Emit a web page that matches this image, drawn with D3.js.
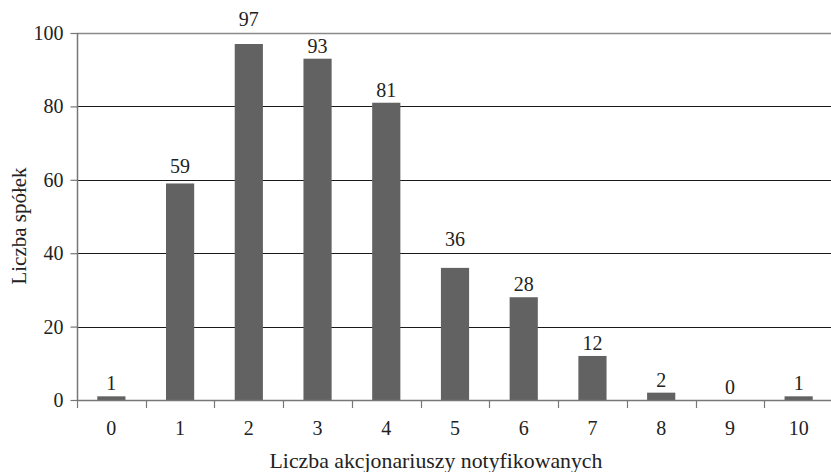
<!DOCTYPE html>
<html><head><meta charset="utf-8">
<script src="https://cdn.jsdelivr.net/npm/d3@7"></script>
<style>
html,body{margin:0;padding:0;background:#fff;}
svg text{font-family:"Liberation Serif","Times New Roman",serif;fill:#222;}
</style></head>
<body><svg id="c" width="831" height="472"></svg>
<script>
const categories = ["0","1","2","3","4","5","6","7","8","9","10"];
const values = [1,59,97,93,81,36,28,12,2,0,1];
const yTicks = [0,20,40,60,80,100];
const xTitle = "Liczba akcjonariuszy notyfikowanych";
const yTitle = "Liczba spółek";

(function(){
const svg = d3.select("#c");
const pL = 77, pR = 833, pT = 33, pB = 400;
const x = d3.scaleBand().domain(categories).range([pL, pR]).padding(0);
const y = d3.scaleLinear().domain([0,100]).range([pB, pT]);
const fs = 20, fsT = 21;

// gridlines
svg.append("g").selectAll("line").data(yTicks.filter(d=>d>0)).join("line")
  .attr("x1", pL).attr("x2", 831)
  .attr("y1", d=>Math.round(y(d))+0.5).attr("y2", d=>Math.round(y(d))+0.5)
  .attr("stroke", d=> d===100 ? "#8a8a8a" : "#1a1a1a").attr("stroke-width", d=> d===100?1.6:1.2);

// bars
const bw = x.bandwidth()*0.41;
svg.append("g").selectAll("rect").data(values).join("rect")
  .attr("x", (d,i)=> x(categories[i]) + (x.bandwidth()-bw)/2)
  .attr("width", bw)
  .attr("y", d=> y(d))
  .attr("height", d=> pB - y(d))
  .attr("fill", "#626262");

// value labels: placed above bar, moved above a gridline if they would collide with it
const gridYs = yTicks.filter(d=>d>0).map(d=>y(d));
function labelY(v){
  let b = y(v) - 6;
  for (const g of gridYs){
    if (g >= b-14 && g <= b+5) { b = g - 7; }
  }
  return b;
}
svg.append("g").selectAll("text").data(values).join("text")
  .attr("x", (d,i)=> x(categories[i]) + x.bandwidth()/2)
  .attr("y", d=> labelY(d))
  .attr("text-anchor","middle").attr("font-size", fs)
  .text(d=>d);

// y axis
const yAxis = d3.axisLeft(y).tickValues(yTicks).tickSize(7).tickPadding(7);
const gy = svg.append("g").attr("transform", `translate(${pL+0.5},0)`).call(yAxis);
gy.select(".domain").attr("stroke","#777").attr("stroke-width",1.5).attr("d", `M0,${pT}V${pB}`);
gy.selectAll(".tick line").attr("stroke","#777").attr("stroke-width",1.2);
gy.selectAll(".tick text").attr("font-size", fs).attr("font-family","Liberation Serif").attr("fill","#222");

// x axis baseline
svg.append("line").attr("x1", pL).attr("x2", 831)
  .attr("y1", pB+0.5).attr("y2", pB+0.5).attr("stroke","#777").attr("stroke-width",1.5);
// x ticks at band boundaries
const bounds = categories.map(c=>x(c)).concat([x(categories[categories.length-1])+x.bandwidth()]);
svg.append("g").selectAll("line").data(bounds).join("line")
  .attr("x1", d=>Math.round(d)+0.5).attr("x2", d=>Math.round(d)+0.5)
  .attr("y1", pB).attr("y2", pB+8).attr("stroke","#777").attr("stroke-width",1.2);
// x labels
svg.append("g").selectAll("text").data(categories).join("text")
  .attr("x", c=> x(c)+x.bandwidth()/2).attr("y", 435)
  .attr("text-anchor","middle").attr("font-size", fs).text(c=>c);

// titles
svg.append("text").attr("x", 436).attr("y", 468).attr("text-anchor","middle")
  .attr("font-size", 21.8).text(xTitle);
svg.append("text").attr("transform", "translate(26,226) rotate(-90)")
  .attr("text-anchor","middle").attr("font-size", fsT).text(yTitle);
})();
</script></body></html>
